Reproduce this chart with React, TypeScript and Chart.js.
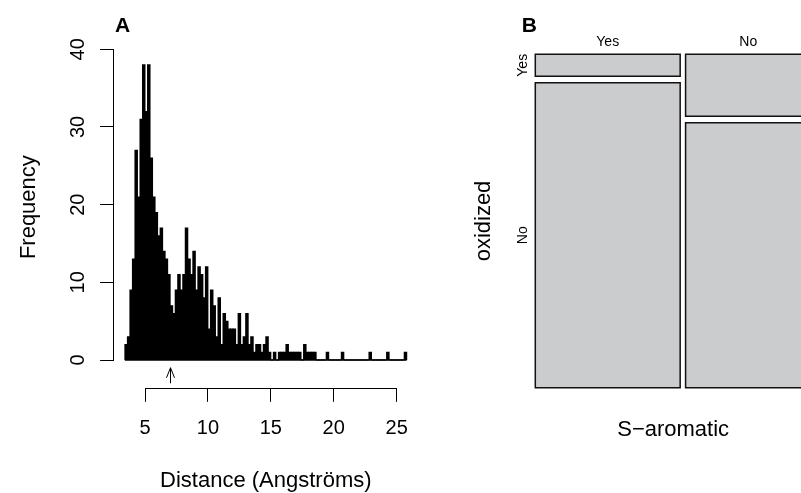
import React, { useEffect, useRef } from "react";
import { Chart, registerables } from "chart.js";

Chart.register(...registerables);

const FONT = "'Liberation Sans', Arial, Helvetica, sans-serif";
Chart.defaults.font.family = FONT;
Chart.defaults.color = "#000";

// ---------------- Panel A: histogram of distances ----------------
const BIN_START = 3.4;
const BIN_WIDTH = 0.2;
const COUNTS = [
  2, 3, 9, 13, 27, 21, 31, 38, 32, 38,
  26, 21, 19, 16, 17, 14, 13, 11, 7, 6,
  9, 11, 9, 11, 17, 13, 11, 14, 9, 12,
  11, 8, 12, 4, 9, 7, 3, 8, 2, 6,
  5, 4, 4, 4, 2, 6, 2, 3, 6, 2,
  3, 1, 2, 2, 1, 2, 3, 1, 0, 1,
  0, 1, 1, 1, 2, 1, 1, 1, 1, 1,
  0, 2, 1, 1, 1, 1, 0, 0, 0, 0,
  1, 0, 0, 0, 0, 0, 1, 0, 0, 0,
  0, 0, 0, 0, 0, 0, 0, 1, 0, 0,
  0, 0, 0, 0, 1, 0, 0, 0, 0, 0,
  0, 1,
];
const X_TICKS = [5, 10, 15, 20, 25];
const Y_TICKS = [0, 10, 20, 30, 40];
const ARROW_AT = 7.0;
const X_TITLE = "Distance (Angströms)";
const Y_TITLE = "Frequency";

// ---------------- Panel B: mosaic plot ----------------
const S_AROMATIC = ["Yes", "No"];
const OXIDIZED = ["Yes", "No"];
// counts[sAromaticIndex][oxidizedIndex]
const CELL_COUNTS = [
  [9, 125],
  [22, 94],
];
const GAP = 0.02;
const MOSAIC_X_TITLE = "S\u2212aromatic";
const MOSAIC_Y_TITLE = "oxidized";

const alignPx = (p: number, w: number) => Math.round(p - w / 2) + w / 2;

function panelLabel(text: string, x: number, y: number) {
  return {
    id: "panelLabel" + text,
    afterDraw(chart: any) {
      const ctx = chart.ctx;
      ctx.save();
      ctx.font = `bold 21px ${FONT}`;
      ctx.fillStyle = "#000";
      ctx.textBaseline = "alphabetic";
      ctx.textAlign = "left";
      ctx.fillText(text, x, y);
      ctx.restore();
    },
  };
}

const rAxesPlugin = {
  id: "rAxes",
  afterDraw(chart: any) {
    const { ctx, chartArea, scales } = chart;
    const xs = scales.x;
    const ys = scales.y;
    ctx.save();
    ctx.strokeStyle = "#000";
    ctx.lineWidth = 1;
    ctx.lineCap = "butt";
    // y axis line from first to last tick
    const ax = alignPx(chartArea.left, 1);
    ctx.beginPath();
    ctx.moveTo(ax, alignPx(ys.getPixelForValue(Y_TICKS[0]), 1) + 0.5);
    ctx.lineTo(ax, alignPx(ys.getPixelForValue(Y_TICKS[Y_TICKS.length - 1]), 1) - 0.5);
    ctx.stroke();
    // x axis line from first to last tick
    const ay = alignPx(chartArea.bottom, 1);
    ctx.beginPath();
    ctx.moveTo(alignPx(xs.getPixelForValue(X_TICKS[0]), 1) - 0.5, ay);
    ctx.lineTo(alignPx(xs.getPixelForValue(X_TICKS[X_TICKS.length - 1]), 1) + 0.5, ay);
    ctx.stroke();
    // arrow marking ARROW_AT, pointing up toward the baseline
    const px = alignPx(xs.getPixelForValue(ARROW_AT), 1);
    const tip = ys.getPixelForValue(-1);
    const tail = ys.getPixelForValue(-3);
    ctx.beginPath();
    ctx.moveTo(px, tail);
    ctx.lineTo(px, tip);
    ctx.moveTo(px - 4, tip + 10);
    ctx.lineTo(px, tip);
    ctx.lineTo(px + 4, tip + 10);
    ctx.stroke();
    ctx.restore();
  },
};

function HistogramChart() {
  const ref = useRef<HTMLCanvasElement>(null);
  useEffect(() => {
    const lo = BIN_START;
    const hi = BIN_START + BIN_WIDTH * COUNTS.length;
    const ext = 0.04 * (hi - lo);
    const data = COUNTS.map((c, i) => ({ x: BIN_START + BIN_WIDTH * (i + 0.5), y: c }));
    const tickGrid = {
      display: true,
      drawOnChartArea: false,
      drawTicks: true,
      tickLength: 13.5,
      color: "#000",
      lineWidth: 1,
      offset: false,
    };
    const chart = new Chart(ref.current as HTMLCanvasElement, {
      type: "bar",
      data: {
        datasets: [
          {
            type: "line",
            data: [
              { x: lo, y: 0 },
              { x: hi, y: 0 },
            ],
            borderColor: "#000",
            borderWidth: 1.5,
            pointRadius: 0,
            fill: false,
            order: 0,
          } as any,
          {
            data: data as any,
            backgroundColor: "#000",
            borderWidth: 0,
            inflateAmount: 0.5,
            barPercentage: 1,
            categoryPercentage: 1,
            order: 1,
          } as any,
        ],
      },
      options: {
        animation: false,
        responsive: false,
        maintainAspectRatio: false,
        events: [],
        layout: { padding: { left: 0, top: 26, right: 22, bottom: 0 } },
        plugins: { legend: { display: false }, tooltip: { enabled: false } },
        scales: {
          x: {
            type: "linear",
            min: lo - ext,
            max: hi + ext,
            offset: false,
            afterBuildTicks: (s: any) => {
              s.ticks = X_TICKS.map((v) => ({ value: v }));
            },
            afterFit: (s: any) => {
              s.height = 104.7;
            },
            grid: tickGrid as any,
            border: { display: false },
            ticks: { font: { size: 20 }, color: "#000", padding: 15, maxRotation: 0, autoSkip: false },
            title: {
              display: true,
              text: X_TITLE,
              font: { size: 22 },
              color: "#000",
              padding: { top: 0, bottom: -1.5 },
            },
          },
          y: {
            type: "linear",
            min: -3.643,
            max: 43.0,
            afterBuildTicks: (s: any) => {
              s.ticks = Y_TICKS.map((v) => ({ value: v }));
            },
            afterFit: (s: any) => {
              s.width = 113.6;
            },
            grid: tickGrid as any,
            border: { display: false },
            ticks: {
              font: { size: 20 },
              color: "#000",
              padding: 10,
              minRotation: 90,
              maxRotation: 90,
              crossAlign: "center",
              autoSkip: false,
            },
            title: {
              display: true,
              text: Y_TITLE,
              font: { size: 22 },
              color: "#000",
              padding: { top: 16, bottom: 0 },
            },
          },
        },
      } as any,
      plugins: [rAxesPlugin, panelLabel("A", 115, 31.7)],
    });
    return () => chart.destroy();
  }, []);
  return (
    <canvas
      ref={ref}
      width={440}
      height={493}
      style={{ position: "absolute", left: 0, top: 0, width: 440, height: 493 }}
    />
  );
}

function MosaicChart() {
  const ref = useRef<HTMLCanvasElement>(null);
  useEffect(() => {
    const colTotals = CELL_COUNTS.map((col) => col.reduce((a, b) => a + b, 0));
    const total = colTotals.reduce((a, b) => a + b, 0);
    const fills: any[] = [];
    const outlines: any[] = [];
    const colCenters: number[] = [];
    const rowCentersFirstCol: number[] = [];
    let xStart = 0;
    CELL_COUNTS.forEach((col, j) => {
      const w = colTotals[j] / total;
      const x0 = xStart;
      const x1 = xStart + w;
      colCenters.push((x0 + x1) / 2);
      let yStart = 0;
      col.forEach((count, i) => {
        const h = count / colTotals[j];
        const y0 = yStart;
        const y1 = yStart + h;
        if (j === 0) rowCentersFirstCol.push((y0 + y1) / 2);
        fills.push({
          data: [
            { x: x0, y: y0 },
            { x: x1, y: y0 },
          ],
          fill: { value: y1 },
          backgroundColor: "#CBCCCE",
          borderColor: "rgba(0,0,0,0)",
          borderWidth: 0,
          pointRadius: 0,
          order: 2,
        });
        outlines.push({
          data: [
            { x: x0, y: y0 },
            { x: x1, y: y0 },
            { x: x1, y: y1 },
            { x: x0, y: y1 },
            { x: x0, y: y0 },
          ],
          fill: false,
          borderColor: "#111",
          borderWidth: 1.5,
          borderCapStyle: "square",
          borderJoinStyle: "miter",
          pointRadius: 0,
          clip: false,
          order: 1,
        });
        yStart = y1 + GAP;
      });
      xStart = x1 + GAP;
    });
    const xMax = 1 + GAP * (CELL_COUNTS.length - 1);
    const yMax = 1 + GAP * (OXIDIZED.length - 1);
    const chart = new Chart(ref.current as HTMLCanvasElement, {
      type: "line",
      data: { datasets: [...fills, ...outlines] },
      options: {
        animation: false,
        responsive: false,
        maintainAspectRatio: false,
        events: [],
        layout: { padding: { left: 0, top: 0, right: 29, bottom: 0 } },
        plugins: { legend: { display: false }, tooltip: { enabled: false } },
        scales: {
          x: {
            type: "linear",
            position: "top",
            min: 0,
            max: xMax,
            afterBuildTicks: (s: any) => {
              s.ticks = colCenters.map((v) => ({ value: v }));
            },
            afterFit: (s: any) => {
              s.height = 54.3;
            },
            grid: { display: false, drawTicks: false },
            border: { display: false },
            ticks: {
              font: { size: 14 },
              color: "#000",
              padding: 3.4,
              maxRotation: 0,
              autoSkip: false,
              callback: (_v: any, i: number) => S_AROMATIC[i],
            },
          },
          x2: {
            type: "linear",
            position: "bottom",
            min: 0,
            max: xMax,
            afterFit: (s: any) => {
              s.height = 105.3;
            },
            grid: { display: false, drawTicks: false },
            border: { display: false },
            ticks: { display: false },
            title: {
              display: true,
              text: MOSAIC_X_TITLE,
              font: { size: 22 },
              color: "#000",
              padding: { top: 0, bottom: 50.3 },
            },
          },
          y: {
            type: "linear",
            position: "left",
            reverse: true,
            min: 0,
            max: yMax,
            afterBuildTicks: (s: any) => {
              s.ticks = rowCentersFirstCol.map((v) => ({ value: v }));
            },
            afterFit: (s: any) => {
              s.width = 95.3;
            },
            grid: { display: false, drawTicks: false },
            border: { display: false },
            ticks: {
              font: { size: 14 },
              color: "#000",
              padding: 1.2,
              minRotation: 90,
              maxRotation: 90,
              crossAlign: "center",
              autoSkip: false,
              callback: (_v: any, i: number) => OXIDIZED[i],
            },
            title: {
              display: true,
              text: MOSAIC_Y_TITLE,
              font: { size: 22 },
              color: "#000",
              padding: { top: 31.2, bottom: 0 },
            },
          },
        },
      } as any,
      plugins: [panelLabel("B", 81.7, 31.7)],
    });
    return () => chart.destroy();
  }, []);
  return (
    <div
      style={{
        position: "absolute",
        left: 440,
        top: 0,
        width: 361,
        height: 493,
        overflow: "hidden",
      }}
    >
      <canvas ref={ref} width={400} height={493} style={{ width: 400, height: 493, display: "block" }} />
    </div>
  );
}

export default function App() {
  return (
    <div>
      <HistogramChart />
      <MosaicChart />
    </div>
  );
}
